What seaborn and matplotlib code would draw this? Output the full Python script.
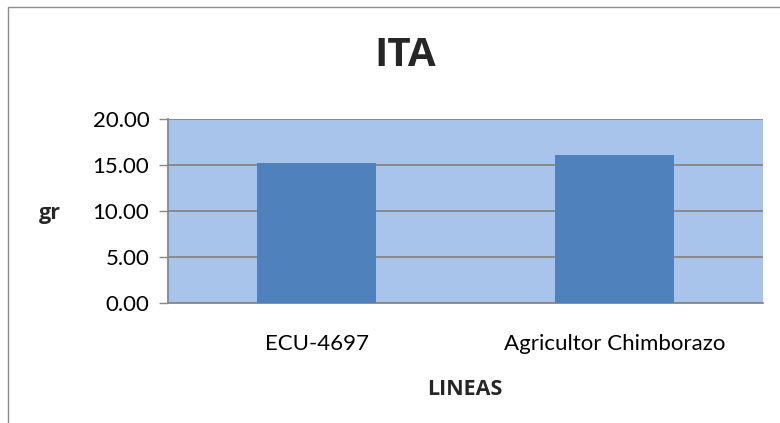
import matplotlib
matplotlib.use("Agg")
import matplotlib.pyplot as plt
from matplotlib.patches import Rectangle
from matplotlib.ticker import FixedLocator
import seaborn as sns
import pandas as pd

# Chart data
lineas = ["ECU-4697", "Agricultor Chimborazo"]
ita_gr = [15.23, 16.08]
y_ticks = [0, 5, 10, 15, 20]
y_tick_labels = ["0.00", "5.00", "10.00", "15.00", "20.00"]

df = pd.DataFrame({"linea": lineas, "ita": ita_gr})

sns.set_theme(style="white")
plt.rcParams["font.family"] = ["Lato", "DejaVu Sans"]
BOLD_FAMILY = ["Open Sans", "DejaVu Sans"]

W, H = 780, 423
fig = plt.figure(figsize=(W / 100, H / 100), dpi=100)
fig.patch.set_facecolor("white")

# Outer chart border (left and top edges visible)
fig.patches.append(Rectangle((8 / W, -0.1), 1.2, (H - 7.5) / H + 0.1,
                             transform=fig.transFigure, fill=False,
                             edgecolor="#8c8c8c", linewidth=1.0))

ax = fig.add_axes([168 / W, (H - 303.3) / H, (763.3 - 168) / W, (303.3 - 119.3) / H])
ax.set_facecolor("#a9c4ea")

sns.barplot(data=df, x="linea", y="ita", color="#4f81bd", saturation=1,
            width=0.4, ax=ax, edgecolor="none", zorder=3)

ax.set_ylim(0, 20)
ax.set_xlim(-0.5, 1.5)
ax.set_yticks(y_ticks)
ax.set_yticklabels(y_tick_labels, fontsize=16, color="black")
ax.yaxis.grid(True, color="#878787", linewidth=1.3, zorder=1)
ax.set_axisbelow(True)

ax.set_xticks([0, 1])
ax.set_xticklabels(lineas, fontsize=16, color="black")
ax.xaxis.set_minor_locator(FixedLocator([-0.5, 0.5, 1.5]))
ax.tick_params(axis="x", which="major", length=0, pad=22)
ax.tick_params(axis="x", which="minor", length=6, width=1.0, color="#878787", direction="out")
ax.tick_params(axis="y", which="major", length=6.5, width=1.0, color="#878787",
               direction="out", pad=7, left=True)

for side in ["top", "right"]:
    ax.spines[side].set_visible(False)
for side in ["left", "bottom"]:
    ax.spines[side].set_visible(True)
    ax.spines[side].set_color("#878787")
    ax.spines[side].set_linewidth(1.3)

ax.set_xlabel("")
ax.set_ylabel("")
fig.text(465 / W, 1 - 389 / H, "LINEAS", fontsize=15.5, fontweight="bold",
         family=BOLD_FAMILY, ha="center", va="center")
fig.text(50 / W, 1 - 214 / H, "gr", fontsize=15.5, fontweight="bold",
         family=BOLD_FAMILY, ha="center", va="center")
fig.text(405 / W, 1 - 56 / H, "ITA", fontsize=29, fontweight="bold",
         family=BOLD_FAMILY, ha="center", va="center")

fig.savefig("out.png", dpi=100)
